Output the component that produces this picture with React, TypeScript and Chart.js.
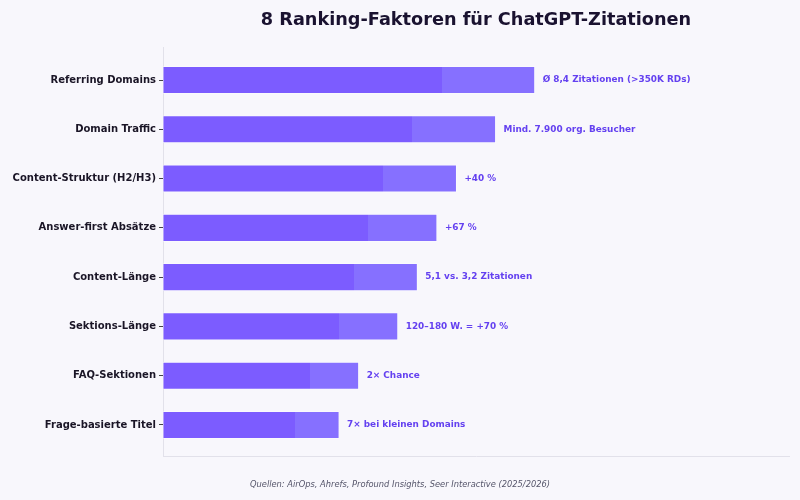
import React, { useEffect, useRef } from "react";
import { Chart, registerables } from "chart.js";

Chart.register(...registerables);

// data
const factors = [
  "Referring Domains",
  "Domain Traffic",
  "Content-Struktur (H2/H3)",
  "Answer-first Absätze",
  "Content-Länge",
  "Sektions-Länge",
  "FAQ-Sektionen",
  "Frage-basierte Titel",
];
const scores = [95, 85, 75, 70, 65, 60, 50, 45];
const notes = [
  "Ø 8,4 Zitationen (>350K RDs)",
  "Mind. 7.900 org. Besucher",
  "+40 %",
  "+67 %",
  "5,1 vs. 3,2 Zitationen",
  "120–180 W. = +70 %",
  "2× Chance",
  "7× bei kleinen Domains",
];
const chartTitle = "8 Ranking-Faktoren für ChatGPT-Zitationen";
const source = "Quellen: AirOps, Ahrefs, Profound Insights, Seer Interactive (2025/2026)";

const BG = "#f8f7fc";
const DARK = "#7c5cff";
const LIGHT = "#8670ff";
const NOTE = "#6441f0";
const FONT = "'DejaVu Sans', sans-serif";

const App: React.FC = () => {
  const canvasRef = useRef<HTMLCanvasElement>(null);

  useEffect(() => {
    if (!canvasRef.current) return;
    const ctx = canvasRef.current.getContext("2d");
    if (!ctx) return;

    // two-tone bars: darker first 3/4, lighter tail
    const barFill = (c: any) => {
      const chart = c.chart;
      const x = chart.scales && chart.scales.x;
      if (!x || c.raw == null) return DARK;
      const x0 = x.getPixelForValue(0);
      const x1 = x.getPixelForValue(c.raw.x);
      if (!isFinite(x0) || !isFinite(x1) || x1 <= x0) return DARK;
      const g = chart.ctx.createLinearGradient(x0, 0, x1, 0);
      g.addColorStop(0, DARK);
      g.addColorStop(0.75, DARK);
      g.addColorStop(0.75, LIGHT);
      g.addColorStop(1, LIGHT);
      return g;
    };

    const extras = {
      id: "extras",
      beforeDraw(chart: any) {
        const c = chart.ctx;
        c.save();
        c.fillStyle = BG;
        c.fillRect(0, 0, chart.width, chart.height);
        c.restore();
      },
      afterDatasetsDraw(chart: any) {
        const c = chart.ctx;
        const meta = chart.getDatasetMeta(0);
        c.save();
        c.font = `bold 8.9px ${FONT}`;
        c.fillStyle = NOTE;
        c.textBaseline = "middle";
        c.textAlign = "left";
        meta.data.forEach((bar: any, i: number) => {
          c.fillText(notes[i], bar.x + 8, bar.y);
        });
        c.restore();
      },
      afterDraw(chart: any) {
        const c = chart.ctx;
        const area = chart.chartArea;
        c.save();
        c.textAlign = "center";
        c.textBaseline = "middle";
        c.fillStyle = "#1a1230";
        c.font = `bold 17.7px ${FONT}`;
        c.fillText(chartTitle, (area.left + area.right) / 2, 20);
        c.fillStyle = "#55556a";
        c.font = `italic 8.3px ${FONT}`;
        c.fillText(source, chart.width / 2, 484.5);
        c.restore();
      },
    };

    const chart = new Chart(ctx, {
      type: "bar",
      data: {
        datasets: [
          {
            data: scores.map((v, i) => ({ x: v, y: i })),
            backgroundColor: barFill,
            borderColor: "rgba(255,255,255,0.6)",
            borderWidth: 0.8,
            borderSkipped: false,
            barThickness: 27,
          },
        ],
      },
      options: {
        indexAxis: "y",
        animation: false,
        responsive: false,
        devicePixelRatio: 1,
        layout: { padding: { top: 47, bottom: 44, left: 0, right: 11 } },
        scales: {
          x: {
            type: "linear",
            min: 0,
            max: 160,
            ticks: { display: false },
            grid: { display: false },
            border: { display: true, color: "#e2e1ea", width: 1 },
            afterFit: (s: any) => {
              s.height = 0;
            },
          },
          y: {
            type: "linear",
            min: -0.67,
            max: 7.63,
            reverse: true,
            offset: false,
            afterBuildTicks: (s: any) => {
              s.ticks = factors.map((_, i) => ({ value: i }));
            },
            ticks: {
              autoSkip: false,
              padding: 3,
              color: "#1a1526",
              font: { family: FONT, size: 10, weight: "bold" },
              callback: (v: any) => factors[v as number] ?? "",
            },
            grid: {
              offset: false,
              drawOnChartArea: false,
              drawTicks: true,
              tickLength: 4,
              color: "#444444",
            },
            border: { display: true, color: "#e2e1ea", width: 1 },
            afterFit: (s: any) => {
              s.width = 163;
            },
          },
        },
        plugins: {
          legend: { display: false },
          tooltip: { enabled: false },
          title: { display: false },
        },
      },
      plugins: [extras],
    });

    return () => {
      chart.destroy();
    };
  }, []);

  return (
    <div style={{ position: "fixed", left: 0, top: 0, width: 800, height: 500, background: BG }}>
      <canvas ref={canvasRef} width={800} height={500} style={{ width: 800, height: 500 }} />
    </div>
  );
};

export default App;
